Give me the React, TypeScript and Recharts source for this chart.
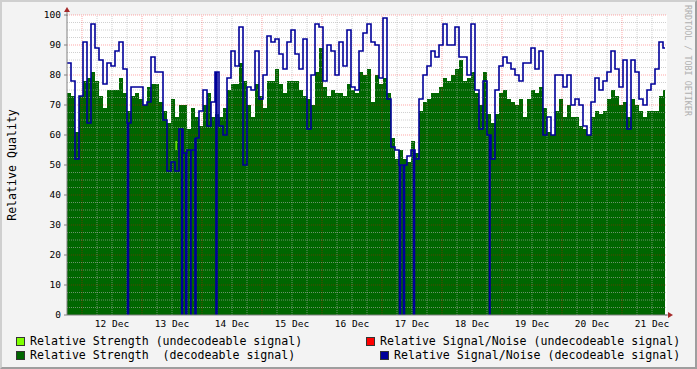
import React from "react";
import {
  ComposedChart,
  Area,
  Line,
  XAxis,
  YAxis,
  CartesianGrid,
  ReferenceLine,
  ReferenceDot,
} from "recharts";

// time axis: hours counted from 12 Dec 00:00, samples every 1.6 h from 11 Dec 18:00
const startHour = -6;
const stepHours = 1.6;
const endHour = 233.2;

// Relative Strength (decodeable signal)
const strength = [
  74, 73, 61, 73, 78, 79, 81, 78, 73, 69, 75, 75, 75, 79, 74, 68, 73, 74, 72, 70, 76, 77, 77, 71, 68, 64, 72, 66, 70, 70,
  62, 69, 66, 63, 70, 74, 66, 67, 66, 69, 75, 77, 77, 84, 78, 70, 66, 77, 73, 69, 78, 78, 82, 77, 74, 78, 78, 78, 75, 73,
  72, 70, 81, 89, 76, 73, 75, 74, 74, 73, 77, 75, 74, 81, 80, 82, 71, 80, 77, 79, 74, 59, 52, 55, 52, 51, 58, 54, 68, 71,
  72, 74, 74, 76, 79, 78, 80, 82, 85, 78, 79, 81, 74, 70, 81, 67, 64, 67, 74, 75, 72, 71, 70, 72, 66, 72, 75, 74, 76, 69,
  61, 60, 68, 72, 66, 70, 66, 66, 63, 62, 60, 66, 68, 67, 68, 72, 75, 73, 70, 71, 66, 72, 70, 68, 66, 68, 68, 68, 73, 75,
];

// Relative Signal/Noise (decodeable signal)
const snr = [
  84, 78, 52, 73, 91, 64, 97, 89, 85, 77, 84, 83, 88, 91, 82, 64, 76, 76, 76, 70, 71, 86, 81, 81, 65, 48, 51, 48, 62, 54,
  55, 55, 59, 68, 75, 63, 71, 81, 63, 60, 79, 88, 83, 96, 50, 76, 75, 88, 72, 80, 93, 91, 92, 87, 82, 91, 95, 87, 82, 92,
  62, 80, 97, 96, 78, 90, 88, 80, 91, 83, 95, 76, 75, 88, 94, 97, 91, 90, 79, 99, 72, 56, 55, 50, 50, 53, 55, 52, 72, 80,
  83, 88, 86, 90, 97, 90, 90, 96, 86, 86, 80, 97, 75, 62, 78, 60, 52, 75, 83, 86, 84, 82, 80, 78, 84, 84, 89, 82, 88, 60,
  66, 60, 80, 80, 76, 80, 70, 72, 70, 63, 60, 71, 79, 75, 78, 81, 88, 82, 76, 85, 62, 85, 81, 72, 70, 75, 77, 82, 91, 89,
];

// short moments where the signal/noise reading fell to zero
const dropoutHours = [18.2, 39.9, 41.5, 43.5, 45.2, 53.6, 127.0, 128.6, 132.6, 163.0];

// Relative Strength (undecodeable signal), short bursts
const weakHours = [37.4, 40.2, 163.2];
const weakLow = [55, 54, 53];
const weakHigh = [58, 64, 60];

const dayTicks = [12, 36, 60, 84, 108, 132, 156, 180, 204, 228];
const dayLabels = ["12 Dec", "13 Dec", "14 Dec", "15 Dec", "16 Dec", "17 Dec", "18 Dec", "19 Dec", "20 Dec", "21 Dec"];
const yTicks = [0, 10, 20, 30, 40, 50, 60, 70, 80, 90, 100];

const idxAt = (h: number) =>
  Math.min(strength.length - 1, Math.max(0, Math.floor((h - startHour) / stepHours + 1e-6)));

const marks: { h: number; drop?: boolean; weak?: [number, number] }[] = [];
strength.forEach((_, i) => marks.push({ h: startHour + i * stepHours }));
marks.push({ h: endHour });
dropoutHours.forEach((d) => {
  marks.push({ h: d, drop: true });
  marks.push({ h: d + 0.4 });
});
weakHours.forEach((w, i) => {
  const r: [number, number] = [weakLow[i], weakHigh[i]];
  marks.push({ h: w, weak: r });
  marks.push({ h: w + 0.5, weak: r });
});
marks.sort((a, b) => a.h - b.h);

const data = marks.map((m) => {
  const i = idxAt(m.h);
  return { h: m.h, strength: strength[i], snr: m.drop ? 0 : snr[i], weak: m.weak ?? null };
});

// grid positions
const majorX: number[] = [];
const minorX: number[] = [];
for (let h = 0; h < 234; h += 6) (h % 24 === 0 ? majorX : minorX).push(h);
const majorY: number[] = [];
const minorY: number[] = [];
for (let v = 2.5; v <= 100; v += 2.5) (v % 10 === 0 ? majorY : minorY).push(v);

const mono = "'DejaVu Sans Mono', monospace";
const tickStyle = { fontSize: 9.5, fontFamily: mono, fill: "#000" };

const UpArrow = ({ cx, cy }: { cx?: number; cy?: number }) => {
  if (cx == null || cy == null) return null;
  return (
    <g>
      <line x1={cx} y1={cy} x2={cx} y2={cy + 6} stroke="#808080" />
      <polygon points={`${cx},${cy - 3} ${cx - 3},${cy + 2} ${cx + 3},${cy + 2}`} fill="#a52a2a" />
    </g>
  );
};

const RightArrow = ({ cx, cy }: { cx?: number; cy?: number }) => {
  if (cx == null || cy == null) return null;
  return (
    <g>
      <line x1={cx - 5} y1={cy} x2={cx} y2={cy} stroke="#808080" />
      <polygon points={`${cx + 3},${cy} ${cx - 2},${cy - 3} ${cx - 2},${cy + 3}`} fill="#a52a2a" />
    </g>
  );
};

const legend = [
  { left: 16, top: 334, color: "#7fff00", text: "Relative Strength (undecodeable signal)" },
  { left: 16, top: 348, color: "#006600", text: "Relative Strength  (decodeable signal)" },
  { left: 366, top: 334, color: "#ff0000", text: "Relative Signal/Noise (undecodeable signal)" },
  { left: 380, top: 348, color: "#000099", text: "Relative Signal/Noise (decodeable signal)" },
];

export default function App() {
  return (
    <div
      style={{
        position: "absolute",
        left: 0,
        top: 0,
        width: 697,
        height: 369,
        background: "#f3f3f3",
        boxSizing: "border-box",
        borderTop: "2px solid #cfcfcf",
        borderLeft: "2px solid #cfcfcf",
        borderRight: "2px solid #9e9e9e",
        borderBottom: "2px solid #9e9e9e",
        overflow: "hidden",
      }}
    >
      <div style={{ position: "absolute", left: -2, top: -2 }}>
        <ComposedChart width={697} height={369} data={data} margin={{ top: 15, right: 30, bottom: 34, left: 7 }}>
          <CartesianGrid horizontal={false} vertical={false} fill="#ffffff" />
          <XAxis
            dataKey="h"
            type="number"
            domain={[-6, 234]}
            ticks={dayTicks}
            interval={0}
            tickFormatter={(v: number) => dayLabels[dayTicks.indexOf(v)]}
            tickLine={false}
            tickSize={0}
            tickMargin={5}
            height={20}
            axisLine={{ stroke: "#808080" }}
            tick={tickStyle}
            allowDataOverflow
          />
          <YAxis
            type="number"
            domain={[0, 100]}
            ticks={yTicks}
            interval={0}
            width={60}
            tickSize={3}
            tickMargin={3}
            tickLine={{ stroke: "#808080" }}
            axisLine={{ stroke: "#808080" }}
            tick={tickStyle}
            allowDataOverflow
          />
          <Area
            dataKey="strength"
            type="stepAfter"
            fill="#006600"
            fillOpacity={1}
            stroke="none"
            isAnimationActive={false}
          />
          <Area
            dataKey="weak"
            type="stepAfter"
            fill="#7fff00"
            fillOpacity={1}
            stroke="none"
            isAnimationActive={false}
          />
          {minorY.map((v) => (
            <ReferenceLine key={"my" + v} y={v} stroke="#b0b0b0" strokeOpacity={0.6} strokeDasharray="1 1" />
          ))}
          {minorX.map((h) => (
            <ReferenceLine key={"mx" + h} x={h} stroke="#b0b0b0" strokeOpacity={0.6} strokeDasharray="1 1" />
          ))}
          {majorY.map((v) => (
            <ReferenceLine key={"My" + v} y={v} stroke="#ff0000" strokeOpacity={0.35} strokeDasharray="1 1" />
          ))}
          {majorX.map((h) => (
            <ReferenceLine key={"Mx" + h} x={h} stroke="#ff0000" strokeOpacity={0.35} strokeDasharray="1 1" />
          ))}
          <Line
            dataKey="snr"
            type="stepAfter"
            stroke="#000099"
            strokeWidth={1.6}
            dot={false}
            isAnimationActive={false}
          />
          <ReferenceDot x={-6} y={101.7} ifOverflow="visible" shape={<UpArrow />} />
          <ReferenceDot x={235.2} y={0} ifOverflow="visible" shape={<RightArrow />} />
        </ComposedChart>
      </div>
      <div
        style={{
          position: "absolute",
          left: 10,
          top: 163,
          transform: "translate(-50%, -50%) rotate(-90deg)",
          fontFamily: mono,
          fontSize: 11.6,
          whiteSpace: "nowrap",
          color: "#000",
        }}
      >
        Relative Quality
      </div>
      <div
        style={{
          position: "absolute",
          left: 681,
          top: 3,
          writingMode: "vertical-rl",
          fontFamily: mono,
          fontSize: 8.4,
          lineHeight: "10px",
          color: "#b0b0b0",
          whiteSpace: "nowrap",
        }}
      >
        RRDTOOL / TOBI OETIKER
      </div>
      {legend.map((l) => (
        <div
          key={l.text}
          style={{
            position: "absolute",
            left: l.left - 2,
            top: l.top - 2,
            height: 14,
            display: "flex",
            alignItems: "center",
            fontFamily: mono,
            fontSize: 11.6,
            whiteSpace: "pre",
            color: "#000",
          }}
        >
          <span
            style={{
              display: "inline-block",
              width: 9,
              height: 9,
              boxSizing: "border-box",
              background: l.color,
              border: "1px solid #333",
              marginRight: 5,
            }}
          />
          {l.text}
        </div>
      ))}
    </div>
  );
}
